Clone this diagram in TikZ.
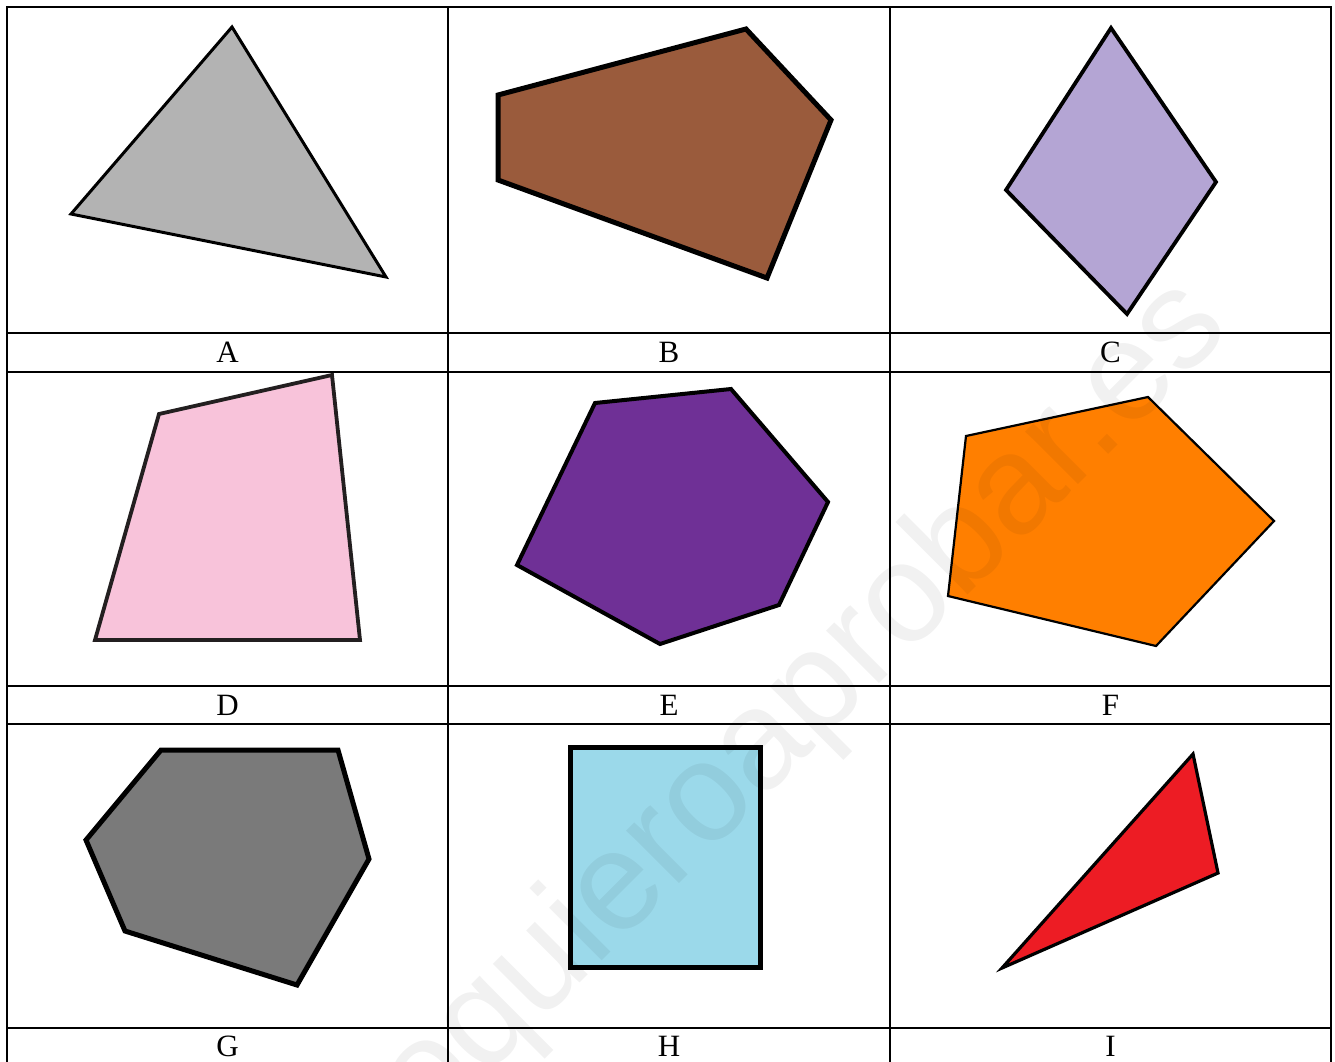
\documentclass[tikz,border=0pt]{standalone}
\usepackage{fontspec}
\setmainfont{Liberation Serif}
\newfontfamily\wmfont{Liberation Sans}
\definecolor{cA}{HTML}{B3B3B3}
\definecolor{cB}{HTML}{9A5B3C}
\definecolor{cC}{HTML}{B4A5D4}
\definecolor{cD}{HTML}{F8C3DA}
\definecolor{cE}{HTML}{6F3096}
\definecolor{cF}{HTML}{FF7F00}
\definecolor{cG}{HTML}{7A7A7A}
\definecolor{cH}{HTML}{9BD9EA}
\definecolor{cI}{HTML}{ED1C24}
\definecolor{dline}{HTML}{231F20}
\begin{document}
\begin{tikzpicture}[x=1pt,y=-1pt,
  gridline/.style={line width=2.4pt, black},
  poly/.style={draw=black, line join=miter},
  lbl/.style={font=\fontsize{31}{36}\selectfont, inner sep=0pt}]
\useasboundingbox (0,0) rectangle (1335,1061);
\fill[white] (0,0) rectangle (1335,1061);
% shapes
\draw[poly, fill=cA, line width=3pt] (232,27) -- (386,277) -- (71,214) -- cycle;
\draw[poly, fill=cB, line width=5pt] (498,95) -- (746,29) -- (831,120) -- (767,278) -- (498,180) -- cycle;
\draw[poly, fill=cC, line width=3.8pt] (1111,28) -- (1216,182) -- (1127,314) -- (1006,190) -- cycle;
\draw[poly, fill=cD, draw=dline, line width=3.8pt] (159,414) -- (332,375) -- (360,640) -- (95,640) -- cycle;
\draw[poly, fill=cE, line width=4pt] (595,403) -- (731,389) -- (828,502) -- (779,605) -- (660,644) -- (517,565) -- cycle;
\draw[poly, fill=cF, line width=2.2pt] (966,436) -- (1148,397) -- (1274,521) -- (1156,646) -- (948,596) -- cycle;
\draw[poly, fill=cG, line width=5pt] (161,750) -- (338,750) -- (369,859) -- (297,985) -- (125,931) -- (86,840) -- cycle;
\draw[poly, fill=cH, line width=5pt] (570,747) rectangle (760,967);
\draw[poly, fill=cI, line width=3.2pt] (1002,968) -- (1193,754) -- (1218,873) -- cycle;
% grid
\foreach \xx in {7,448,890,1331} \draw[gridline] (\xx,6) -- (\xx,1070);
\foreach \yy in {7,333,372,686,724,1028} \draw[gridline] (6,\yy) -- (1332,\yy);
% labels
\node[lbl] (lA) at (227.5,352.5) {A};
\node[lbl] (lB) at (669,352.5) {B};
\node[lbl] (lC) at (1110.5,352.5) {C};
\node[lbl] (lD) at (227.5,705) {D};
\node[lbl] (lE) at (669,705) {E};
\node[lbl] (lF) at (1110.5,705) {F};
\node[lbl] (lG) at (227.5,1046) {G};
\node[lbl] (lH) at (669,1046) {H};
\node[lbl] (lI) at (1110.5,1046) {I};
% watermark
\node[rotate=45, anchor=base, inner sep=0pt, text=black, text opacity=0.055,
      font=\wmfont\fontsize{141}{150}\selectfont] (wm) at (806,757) {yoquieroaprobar.es};
\end{tikzpicture}
\end{document}
